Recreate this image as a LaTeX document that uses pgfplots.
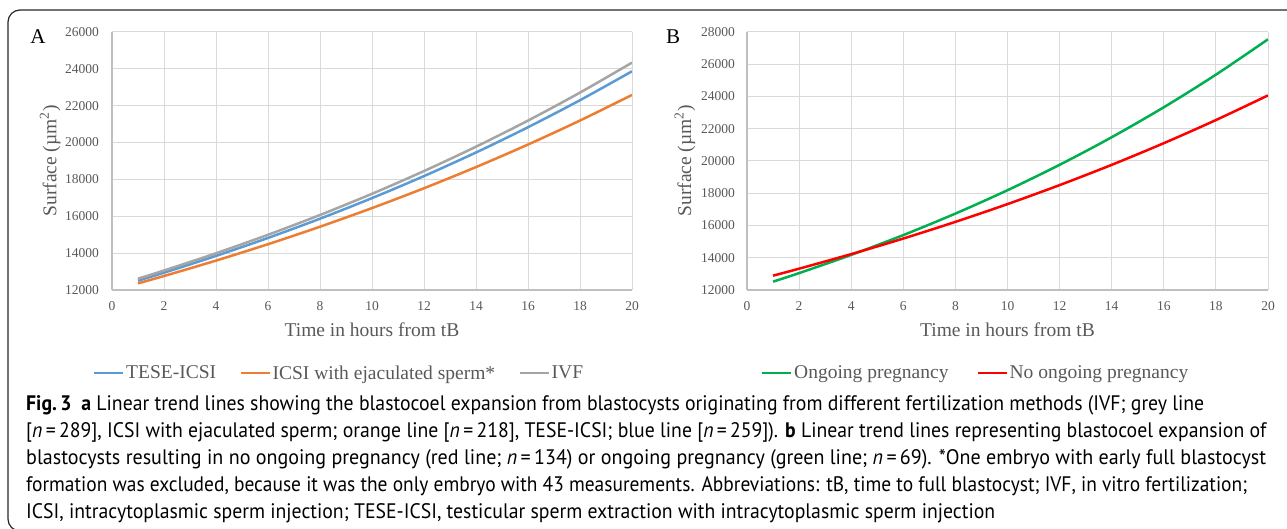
\documentclass[border=0pt]{standalone}
\usepackage{pgfplots}
\pgfplotsset{compat=1.18}
\usepackage{graphicx}
\usepackage{fontspec}
\setmainfont{Liberation Serif}
\newfontfamily\capfont{PT Sans}

\definecolor{cblue}{HTML}{5B9BD5}
\definecolor{corange}{HTML}{ED7D31}
\definecolor{cgrey}{HTML}{A5A5A5}
\definecolor{cgreen}{HTML}{00B050}
\definecolor{cred}{HTML}{FF0000}
\definecolor{gridc}{HTML}{D9D9D9}
\definecolor{axc}{HTML}{BFBFBF}
\definecolor{txt}{HTML}{595959}

\pgfplotsset{
  excel/.style={
    scale only axis, height=258pt, anchor=south west,
    xmin=0, xmax=20, xtick={0,2,...,20},
    axis x line*=bottom, axis y line*=left,
    axis line style={axc, line width=1.5pt},
    grid=major, major grid style={gridc, line width=1pt},
    major tick length=0pt,
    scaled ticks=false,
    tick label style={font=\fontsize{13.5}{13.5}\selectfont, text=txt},
    /pgf/number format/assume math mode=true,
    /pgf/number format/1000 sep={},
    /pgf/number format/fixed,
    xticklabel style={anchor=center, yshift=-16pt},
    yticklabel style={anchor=east, inner sep=0pt, xshift=-13pt},
    label style={font=\fontsize{19.5}{19.5}\selectfont, text=txt},
    xlabel style={at={(axis description cs:0.5,-0.155)}, anchor=center},
    ylabel style={at={(axis description cs:-0.119,0.5)}, anchor=center},
    xlabel={Time in hours from tB},
    ylabel={Surface (µm\textsuperscript{2})},
    legend columns=3,
    legend style={draw=none, fill=none, inner sep=0pt, column sep=0pt,
      font=\fontsize{19.5}{19.5}\selectfont,
      nodes={text=txt, inner sep=1.5pt}},
    legend image code/.code={\draw[#1] (0pt,0pt) -- (29pt,0pt);},
    trend/.style={line width=2.5pt, smooth},
  }
}

\begin{document}
\begin{tikzpicture}[x=1pt, y=1pt]
\useasboundingbox (0,0) rectangle (1287,529);
\draw[line width=1.2pt, black!85, rounded corners=12pt] (1300,519) -- (8,519) -- (8,-2) -- (60,-2);

% panel A
\begin{axis}[excel, at={(112pt,239pt)}, width=520pt,
    ymin=12000, ymax=26000, ytick={12000,14000,...,26000},
    legend style={at={(axis description cs:-0.0365,-0.3217)}, anchor=west,
      /tikz/every even column/.append style={column sep=22pt}}]
  \addplot[cblue, trend] coordinates {
    (1,12506) (2,12939) (4,13850) (6,14825) (8,15869) (10,16986)
    (12,18182) (14,19462) (16,20832) (18,22299) (20,23868)};
  \addlegendentry{TESE-ICSI}
  \addplot[corange, trend] coordinates {
    (1,12361) (2,12759) (4,13595) (6,14485) (8,15434) (10,16445)
    (12,17522) (14,18670) (16,19893) (18,21196) (20,22585)};
  \addlegendentry{ICSI with ejaculated sperm*}
  \addplot[cgrey, trend] coordinates {
    (1,12614) (2,13058) (4,13993) (6,14996) (8,16070) (10,17221)
    (12,18454) (14,19776) (16,21193) (18,22711) (20,24338)};
  \addlegendentry{IVF}
\end{axis}

% panel B
\begin{axis}[excel, at={(747pt,239pt)}, width=521pt,
    ymin=12000, ymax=28000, ytick={12000,14000,...,28000},
    yticklabel style={xshift=1pt},
    legend style={at={(axis description cs:0.0269,-0.3217)}, anchor=west,
      /tikz/every even column/.append style={column sep=26.5pt}}]
  \addplot[cgreen, trend] coordinates {
    (1,12517) (2,13048) (4,14177) (6,15405) (8,16739) (10,18188)
    (12,19763) (14,21474) (16,23333) (18,25354) (20,27547)};
  \addlegendentry{Ongoing pregnancy}
  \addplot[cred, trend] coordinates {
    (1,12890) (2,13321) (4,14226) (6,15192) (8,16225) (10,17327)
    (12,18505) (14,19762) (16,21105) (18,22539) (20,24068)};
  \addlegendentry{No ongoing pregnancy}
\end{axis}

\node[font=\fontsize{21}{21}\selectfont] at (38,492) {A};
\node[font=\fontsize{21}{21}\selectfont] at (673,492) {B};

% caption
\begin{scope}[every node/.style={anchor=base west, inner sep=0pt,
    font=\capfont\fontsize{21}{21}\selectfont}]
\node at (26,118) {\resizebox{1178pt}{\height}{\textbf{Fig.\,3}\enspace\textbf{a} Linear trend lines showing the blastocoel expansion from blastocysts originating from different fertilization methods (IVF; grey line}};
\node at (26,91) {\resizebox{1240pt}{\height}{[\textit{n}\,=\,289], ICSI with ejaculated sperm; orange line [\textit{n}\,=\,218], TESE-ICSI; blue line [\textit{n}\,=\,259]). \textbf{b} Linear trend lines representing blastocoel expansion of}};
\node at (26,64) {\resizebox{1240pt}{\height}{blastocysts resulting in no ongoing pregnancy (red line; \textit{n}\,=\,134) or ongoing pregnancy (green line; \textit{n}\,=\,69). *One embryo with early full blastocyst}};
\node at (26,37) {\resizebox{1221pt}{\height}{formation was excluded, because it was the only embryo with 43 measurements. Abbreviations: tB, time to full blastocyst; IVF, in vitro fertilization;}};
\node at (26,10) {\resizebox{969pt}{\height}{ICSI, intracytoplasmic sperm injection; TESE-ICSI, testicular sperm extraction with intracytoplasmic sperm injection}};
\end{scope}
\end{tikzpicture}
\end{document}
